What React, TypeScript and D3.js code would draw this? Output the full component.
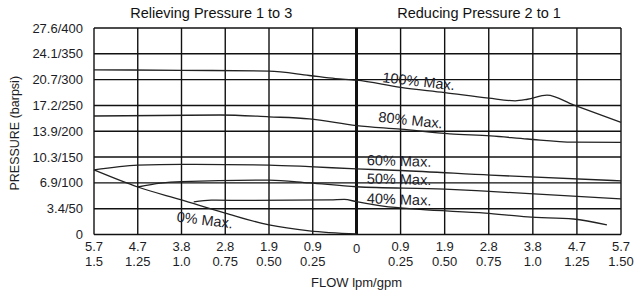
import React, { useEffect, useRef } from "react";
import * as d3 from "d3";

// flow in gpm: negative side = relieving 1 to 3, positive side = reducing 2 to 1
// pressure in psi
const flowTicks = [-1.5, -1.25, -1, -0.75, -0.5, -0.25, 0, 0.25, 0.5, 0.75, 1, 1.25, 1.5];
const lpmLabels = ["5.7", "4.7", "3.8", "2.8", "1.9", "0.9", "0", "0.9", "1.9", "2.8", "3.8", "4.7", "5.7"];
const gpmLabels = ["1.5", "1.25", "1.0", "0.75", "0.50", "0.25", "", "0.25", "0.50", "0.75", "1.0", "1.25", "1.50"];
const psiTicks = [0, 50, 100, 150, 200, 250, 300, 350, 400];
const pressureLabels = ["0", "3.4/50", "6.9/100", "10.3/150", "13.9/200", "17.2/250", "20.7/300", "24.1/350", "27.6/400"];

const max100 = [[-1.5, 319], [-1.0, 318], [-0.5, 316.5], [-0.27, 308], [-0.12, 302], [0, 299], [0.25, 285], [0.5, 275],
  [0.75, 264], [0.9, 259], [0.97, 262], [1.08, 270], [1.23, 251], [1.5, 217]];
const max80 = [[-1.5, 229.5], [-0.78, 231.5], [-0.5, 228], [-0.27, 224], [0, 211], [0.25, 204], [0.53, 195],
  [0.76, 191], [0.97, 185], [1.23, 179], [1.5, 178.5]];
const max60 = [[-1.5, 125], [-1.25, 134.5], [-1.0, 136], [-0.5, 134.5], [-0.27, 131.5], [0, 127], [0.25, 124],
  [0.76, 115], [1.5, 104]];
const max50 = [[-1.25, 92], [-1.12, 99.5], [-1.0, 102.5], [-0.5, 105.5], [-0.27, 100], [0, 92.5], [0.5, 88],
  [0.73, 84], [1.5, 69]];
const max40 = [[-0.93, 63], [-0.83, 66.5], [-0.6, 66], [-0.15, 67], [-0.07, 68], [0, 63.5], [0.15, 55], [0.36, 48.5],
  [0.73, 41.5], [0.97, 34], [1.23, 30], [1.42, 18.5]];
const max0 = [[-1.5, 125], [-1.25, 92], [-1.0, 67], [-0.75, 41.5], [-0.5, 18.5], [-0.27, 7], [0, 1]];

const curveLabels = [
  { text: "100% Max.", flow: 0.145, psi: 295, angle: 6.4 },
  { text: "80% Max.", flow: 0.122, psi: 218.5, angle: 6 },
  { text: "60% Max.", flow: 0.058, psi: 134.5, angle: 1.5 },
  { text: "50% Max.", flow: 0.058, psi: 99, angle: 1.5 },
  { text: "40% Max.", flow: 0.058, psi: 60.5, angle: 2 },
  { text: "0% Max.", flow: -1.03, psi: 25, angle: 7 },
];

const FONT = "'Liberation Sans', Arial, Helvetica, sans-serif";

export default function App() {
  const ref = useRef<SVGSVGElement>(null);

  useEffect(() => {
    const svg = d3.select(ref.current);
    svg.selectAll("*").remove();

    var x = d3.scaleLinear().domain([-1.5, 0, 1.5]).range([94, 356.5, 621]);
    var y = d3.scaleLinear().domain([0, 400]).range([234.5, 28]);

    // grid
    var grid = svg.append("g").attr("stroke", "#111").attr("fill", "none");
    grid.selectAll(".vl")
      .data(flowTicks)
      .enter().append("line")
      .attr("x1", d => x(d)).attr("x2", d => x(d))
      .attr("y1", y(0)).attr("y2", y(400))
      .attr("stroke-width", d => (d === 0 ? 3 : 1.4));
    grid.selectAll(".hl")
      .data(psiTicks)
      .enter().append("line")
      .attr("x1", x(-1.5)).attr("x2", x(1.5))
      .attr("y1", d => y(d)).attr("y2", d => y(d))
      .attr("stroke-width", 1.4);

    // curves
    var line = d3.line<number[]>()
      .x(d => x(d[0]))
      .y(d => y(d[1]))
      .curve(d3.curveMonotoneX);
    svg.append("g")
      .selectAll("path")
      .data([max100, max80, max60, max50, max40, max0])
      .enter().append("path")
      .attr("d", d => line(d))
      .attr("fill", "none")
      .attr("stroke", "#222")
      .attr("stroke-width", 1.3);

    // curve labels
    svg.append("g")
      .selectAll("text")
      .data(curveLabels)
      .enter().append("text")
      .attr("transform", d => "translate(" + x(d.flow) + "," + y(d.psi) + ") rotate(" + d.angle + ")")
      .attr("font-family", FONT)
      .attr("font-size", 14.5)
      .attr("fill", "#1c1c2a")
      .text(d => d.text);

    // y tick labels
    svg.append("g")
      .selectAll("text")
      .data(psiTicks)
      .enter().append("text")
      .attr("x", 83)
      .attr("y", d => y(d) + 4.5)
      .attr("text-anchor", "end")
      .attr("font-family", FONT)
      .attr("font-size", 13)
      .attr("fill", "#1c1c24")
      .text((d, i) => pressureLabels[i]);

    // x tick labels, two rows
    var xt = svg.append("g")
      .attr("font-family", FONT)
      .attr("font-size", 13)
      .attr("fill", "#1c1c24")
      .attr("text-anchor", "middle");
    xt.selectAll(".lpm")
      .data(flowTicks)
      .enter().append("text")
      .attr("x", d => x(d))
      .attr("y", d => (d === 0 ? 252.5 : 250.5))
      .text((d, i) => lpmLabels[i]);
    xt.selectAll(".gpm")
      .data(flowTicks)
      .enter().append("text")
      .attr("x", d => x(d))
      .attr("y", 266)
      .text((d, i) => gpmLabels[i]);

    // titles
    svg.append("text")
      .attr("x", x(-0.83)).attr("y", 18)
      .attr("text-anchor", "middle")
      .attr("font-family", FONT).attr("font-size", 14.5).attr("fill", "#111")
      .text("Relieving Pressure 1 to 3");
    svg.append("text")
      .attr("x", x(0.695)).attr("y", 18)
      .attr("text-anchor", "middle")
      .attr("font-family", FONT).attr("font-size", 14.5).attr("fill", "#111")
      .text("Reducing Pressure 2 to 1");
    svg.append("text")
      .attr("x", x(0)).attr("y", 286.5)
      .attr("text-anchor", "middle")
      .attr("font-family", FONT).attr("font-size", 13).attr("fill", "#1c1c24")
      .text("FLOW lpm/gpm");
    svg.append("text")
      .attr("transform", "translate(19," + (y(200) + 2) + ") rotate(-90)")
      .attr("text-anchor", "middle")
      .attr("font-family", FONT).attr("font-size", 12.5).attr("fill", "#1c1c24")
      .text("PRESSURE (barpsi)");
  }, []);

  return (
    <svg
      ref={ref}
      width={635}
      height={292}
      style={{ position: "absolute", left: 0, top: 0, background: "#fff" }}
    />
  );
}
